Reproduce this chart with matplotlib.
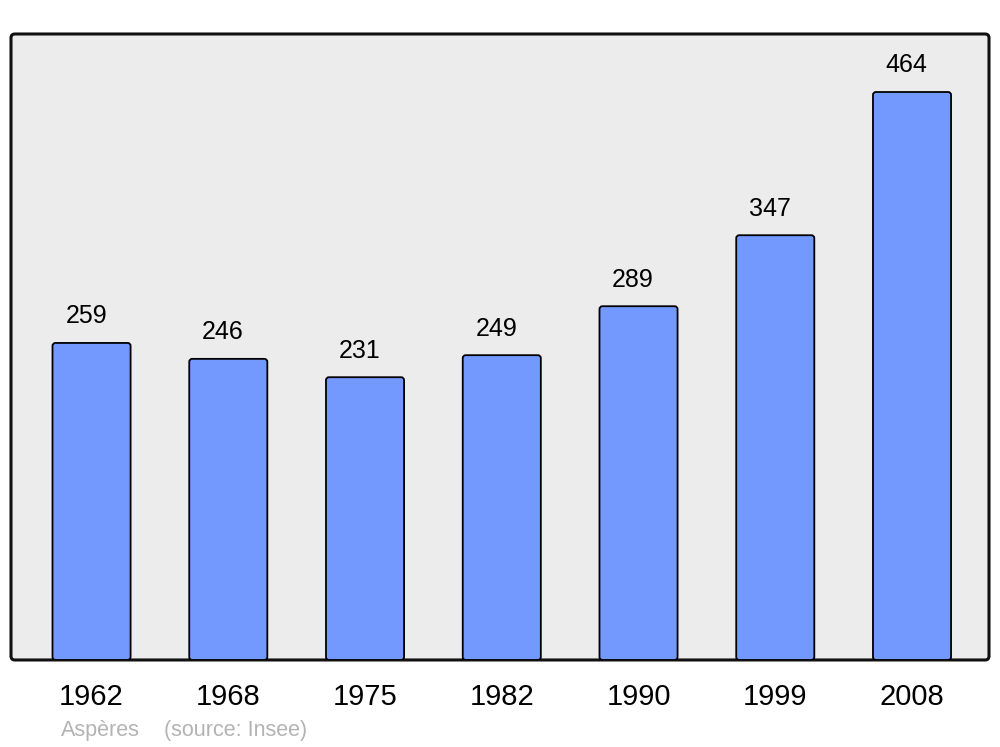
import matplotlib
matplotlib.use("Agg")
import matplotlib.pyplot as plt
from matplotlib.patches import FancyBboxPatch

years = ["1962", "1968", "1975", "1982", "1990", "1999", "2008"]
population = [259, 246, 231, 249, 289, 347, 464]
commune = "Aspères"
source = "(source: Insee)"

plt.rcParams['font.family'] = ['Liberation Sans', 'DejaVu Sans']

fig = plt.figure(figsize=(10, 7.47), dpi=100)
ax = fig.add_axes([0.011, 0.1165, 0.978, 0.838])
ax.set_facecolor('none')

x = list(range(len(years)))
ax.set_xlim(-0.589, 6.563)
ax.set_ylim(0, 511.4)

bars = ax.bar(x, population, width=0.571, color='#7399ff', edgecolor='black', linewidth=1.3)
# replace with slightly rounded boxes
px_x = 136.75
px_y = 1.2241
for b in bars:
    bx, by, bw, bh = b.get_x(), b.get_y(), b.get_width(), b.get_height()
    p = FancyBboxPatch((bx, by), bw, bh,
                       boxstyle="round,pad=0,rounding_size=%f" % (3 / px_x),
                       mutation_aspect=px_x / px_y,
                       facecolor='#7399ff', edgecolor='black', linewidth=1.3, zorder=3)
    ax.add_patch(p)
    b.set_visible(False)

for xi, v in zip(x, population):
    ax.annotate(str(v), (xi - 0.04, v), xytext=(0, 10.5), textcoords='offset points',
                ha='center', va='bottom', fontsize=18, color='black')

for s in ax.spines.values():
    s.set_visible(False)

frame = FancyBboxPatch((0, 0), 1, 1, boxstyle="round,pad=0,rounding_size=0.004",
                       mutation_aspect=0.978 * 1000 / (0.838 * 747),
                       transform=ax.transAxes, facecolor='#ececec', edgecolor='#111111',
                       linewidth=2.2, clip_on=False, zorder=0)
ax.add_patch(frame)

ax.set_xticks(x)
ax.set_xticklabels(years, fontsize=21)
ax.tick_params(axis='x', length=0, pad=16.5)
ax.set_yticks([])

fig.text(0.061, 0.0075, commune, fontsize=15.5, color='#b3b3b3', ha='left', va='bottom')
fig.text(0.164, 0.0075, source, fontsize=15.5, color='#b3b3b3', ha='left', va='bottom')

fig.savefig("out.png", dpi=100, facecolor='white')
